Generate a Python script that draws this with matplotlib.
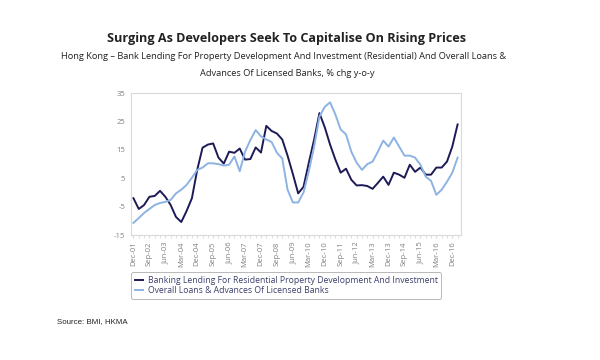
import matplotlib
matplotlib.use("Agg")
import numpy as np
import matplotlib.pyplot as plt

# Quarterly % chg y-o-y, Dec-01 .. Mar-17
dev_lending = [-2, -5.8, -4.4, -1.5, -1.2, 0.6, -1.5, -4.4, -8.6, -10.4,
               -6.5, -2, 8, 15.8, 16.9, 17.3, 12.3, 10.2, 14.4, 14,
               15.5, 11.6, 11.8, 15.9, 14.1, 23.5, 21.7, 20.8, 18.7, 13,
               6.5, -0.3, 2, 10.5, 18.7, 28, 23, 16.9, 11.6, 7,
               8.4, 4.5, 2.5, 2.6, 2.3, 1.3, 3.4, 5.6, 2.7, 7,
               6.3, 5.2, 9.8, 7.3, 8.8, 6.3, 6.3, 8.8, 8.8, 10.9,
               16.2, 24]
overall_loans = [-10.7, -9, -7.2, -5.8, -4.4, -3.7, -3.3, -2.6, -0.3, 1,
                 2.7, 5.2, 8, 8.8, 10.3, 10.3, 10, 9.5, 9.8, 12.7,
                 7.5, 14.4, 18.5, 22, 19.8, 18.7, 17.8, 14, 12, 1,
                 -3.5, -3.5, 0, 7.5, 16.2, 26.8, 30.2, 31.8, 27.5, 22.2,
                 20.5, 14.4, 10.5, 8, 10, 10.9, 14.4, 18.3, 16.2, 19.4,
                 16.2, 13, 13, 12.3, 9.8, 5.6, 4.1, -0.8, 1, 3.8,
                 7, 12.3]
tick_labels = ["Dec-01", "Sep-02", "Jun-03", "Mar-04", "Dec-04", "Sep-05", "Jun-06",
               "Mar-07", "Dec-07", "Sep-08", "Jun-09", "Mar-10", "Dec-10", "Sep-11",
               "Jun-12", "Mar-13", "Dec-13", "Sep-14", "Jun-15", "Mar-16", "Dec-16"]
y_ticks = [-15, -5, 5, 15, 25, 35]

DARK = "#1c1a57"
LIGHT = "#8db3e2"
GREY_TXT = "#808080"
FRAME = "#d9d9d9"

plt.rcParams["font.family"] = ["Open Sans", "DejaVu Sans"]

fig = plt.figure(figsize=(6, 3.6), dpi=100)
ax = fig.add_axes([0.218, 0.347, 0.55, 0.394])

x = np.arange(len(dev_lending))
l1, = ax.plot(x, dev_lending, color=DARK, lw=1.4)
l2, = ax.plot(x, overall_loans, color=LIGHT, lw=1.4)

ax.set_xlim(-0.5, 61.6)
ax.set_ylim(-15, 35)
ax.set_yticks(y_ticks)
ax.set_yticklabels([str(t) for t in y_ticks], fontsize=5.5, color=GREY_TXT)
ax.set_xticks(np.arange(0, 61, 3))
ax.set_xticklabels(tick_labels, rotation=90, fontsize=5.5, color=GREY_TXT)
ax.set_xticks(x, minor=True)
ax.tick_params(axis="x", which="both", length=2.5, color=FRAME, pad=2)
ax.tick_params(axis="y", length=0, pad=4)
for spine in ax.spines.values():
    spine.set_edgecolor(FRAME)
    spine.set_linewidth(0.8)

fig.text(0.477, 0.894, "Surging As Developers Seek To Capitalise On Rising Prices",
         ha="center", va="center", fontsize=9.1, fontweight="bold", color="#222222")
fig.text(0.472, 0.843,
         "Hong Kong \u2013 Bank Lending For Property Development And Investment (Residential) And Overall Loans &",
         ha="center", va="center", fontsize=6.7, color="#222222")
fig.text(0.478, 0.797, "Advances Of Licensed Banks, % chg y-o-y",
         ha="center", va="center", fontsize=6.7, color="#222222")

leg = fig.legend([l1, l2],
                 ["Banking Lending For Residential Property Development And Investment",
                  "Overall Loans & Advances Of Licensed Banks"],
                 loc="center", bbox_to_anchor=(0.477, 0.207), fontsize=6.2,
                 handlelength=0.9, handletextpad=0.6, labelspacing=0.2,
                 borderpad=0.4, fancybox=True, frameon=True)
leg.get_frame().set_edgecolor("#a6a6a6")
leg.get_frame().set_linewidth(0.7)
for t in leg.get_texts():
    t.set_color("#3b3f6b")

fig.text(0.095, 0.108, "Source: BMI, HKMA", ha="left", va="center", fontsize=5.7,
         family="Liberation Sans", color="#222222")

fig.savefig("out.png", dpi=100)
